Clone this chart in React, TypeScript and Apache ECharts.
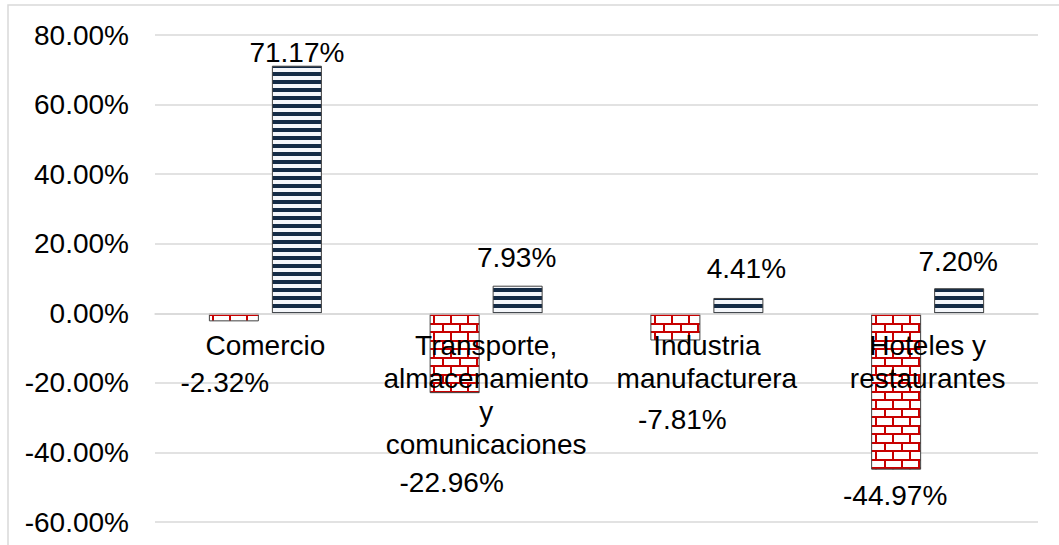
import React, { useEffect, useRef } from "react";
import * as echarts from "echarts";

const categories = [
  "Comercio",
  "Transporte,\nalmacenamiento\ny\ncomunicaciones",
  "Industria\nmanufacturera",
  "Hoteles y\nrestaurantes",
];
const seriesA = [-2.32, -22.96, -7.81, -44.97];
const seriesB = [71.17, 7.93, 4.41, 7.2];
const labelOffsetsA = [[-9, 45], [-3, 73], [7, 63], [-1, 10]];
const labelOffsetsB = [[0, 3], [-1, -12], [8, -13], [-1, -11]];
const yTicks = { min: -60, max: 80, interval: 20 };

function brickPattern() {
  const c = document.createElement("canvas");
  c.width = 34;
  c.height = 17;
  const ctx = c.getContext("2d")!;
  ctx.fillStyle = "#ffffff";
  ctx.fillRect(0, 0, 34, 17);
  ctx.fillStyle = "#c80000";
  ctx.fillRect(0, 0, 34, 2);
  ctx.fillRect(0, 8, 34, 2);
  ctx.fillRect(0, 0, 2, 9);
  ctx.fillRect(17, 0, 2, 9);
  ctx.fillRect(8, 8, 2, 9);
  ctx.fillRect(25, 8, 2, 9);
  return { image: c, repeat: "repeat", imageWidth: 34, imageHeight: 17 };
}

function stripePattern() {
  const c = document.createElement("canvas");
  c.width = 8;
  c.height = 8;
  const ctx = c.getContext("2d")!;
  ctx.fillStyle = "#f4f6fa";
  ctx.fillRect(0, 0, 8, 8);
  ctx.fillStyle = "#132a45";
  ctx.fillRect(0, 0, 8, 4);
  return { image: c, repeat: "repeat", imageWidth: 8, imageHeight: 8 };
}

export default function App() {
  const ref = useRef<HTMLDivElement>(null);
  useEffect(() => {
    if (!ref.current) return;
    const chart = echarts.init(ref.current, undefined, { renderer: "svg" });
    const font = "'Liberation Sans', Arial, sans-serif";
    const labelBase = {
      show: true,
      position: "outside",
      distance: 0,
      fontSize: 28,
      fontFamily: font,
      color: "#000",
      lineHeight: 32,
      formatter: (p: any) => p.value.toFixed(2) + "%",
    };
    const gridTop = 35;
    const gridBottom = 23;
    const plotH = 545 - gridTop - gridBottom;
    const zeroFromBottom = (plotH * (0 - yTicks.min)) / (yTicks.max - yTicks.min);
    chart.setOption({
      animation: false,
      graphic: [
        {
          type: "rect",
          shape: { x: 8, y: 5, width: 1200, height: 700 },
          style: { fill: "none", stroke: "#d9d9d9", lineWidth: 1.5 },
          silent: true,
        },
      ],
      grid: { left: 155, right: 21, top: gridTop, bottom: gridBottom, containLabel: false, outerBoundsMode: "none" },
      xAxis: {
        type: "category",
        data: categories,
        z: 5,
        offset: -zeroFromBottom,
        axisLine: { show: true, onZero: false, lineStyle: { color: "#d9d9d9", width: 1.5 } },
        axisTick: { show: false },
        axisLabel: {
          interval: 0,
          margin: 16,
          fontSize: 28,
          lineHeight: 33,
          fontFamily: font,
          color: "#000",
        },
      },
      yAxis: {
        type: "value",
        min: yTicks.min,
        max: yTicks.max,
        interval: yTicks.interval,
        axisLine: { show: false },
        axisTick: { show: false },
        splitLine: { lineStyle: { color: "#d9d9d9", width: 1.5 } },
        axisLabel: {
          margin: 26,
          fontSize: 28,
          fontFamily: font,
          color: "#000",
          formatter: (v: number) => v.toFixed(2) + "%",
        },
      },
      series: [
        {
          type: "bar",
          barWidth: 50,
          barGap: "26%",
          itemStyle: { color: brickPattern(), borderColor: "#404040", borderWidth: 1 },
          data: seriesA.map((v, i) => ({
            value: v,
            label: { ...labelBase, offset: labelOffsetsA[i] },
          })),
        },
        {
          type: "bar",
          barWidth: 50,
          itemStyle: { color: stripePattern(), borderColor: "#404040", borderWidth: 1 },
          data: seriesB.map((v, i) => ({
            value: v,
            label: { ...labelBase, offset: labelOffsetsB[i] },
          })),
        },
      ],
    });
    return () => chart.dispose();
  }, []);
  return (
    <div
      ref={ref}
      style={{ position: "fixed", left: 0, top: 0, width: 1059, height: 545, background: "#fff" }}
    />
  );
}
